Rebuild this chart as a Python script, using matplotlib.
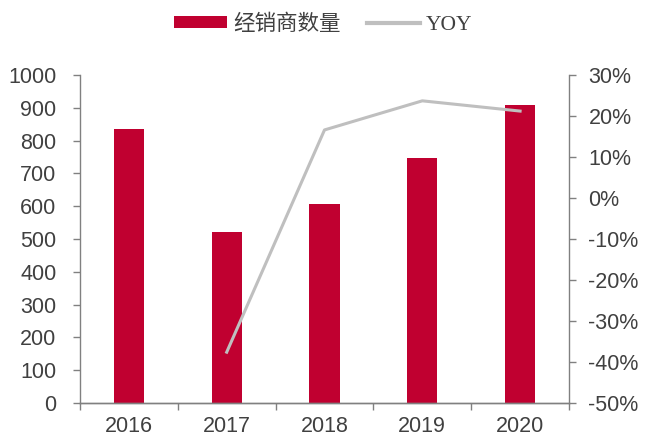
import matplotlib
matplotlib.use("Agg")
import matplotlib.pyplot as plt
from matplotlib.ticker import FuncFormatter
from matplotlib.patches import Patch
from matplotlib.lines import Line2D

years = ["2016", "2017", "2018", "2019", "2020"]
dealers = [835, 521, 607, 747, 909]
yoy_years = ["2017", "2018", "2019", "2020"]
yoy = [-37.6, 16.6, 23.7, 21.2]

bar_color = "#C00030"
line_color = "#BFBFBF"
spine_color = "#808080"
text_color = "#404040"

plt.rcParams['font.family'] = ['Liberation Sans', 'DejaVu Sans']
FS = 15.5

fig = plt.figure(figsize=(6.47, 4.44), dpi=100)
ax = fig.add_axes([80/647, 1-403/444, (569-80)/647, (403-75)/444])
x = list(range(len(years)))
ax.bar(x, dealers, width=0.31, color=bar_color, zorder=2)
ax.set_xlim(-0.5, len(years)-0.5)
ax.set_ylim(0, 1000)
ax.set_yticks(range(0, 1001, 100))
ax.set_xticks(x)
ax.set_xticklabels(years)
ax.set_xticks([i - 0.5 for i in range(len(years)+1)], minor=True)
ax.tick_params(axis='x', which='major', length=0, pad=9, labelsize=FS, labelcolor=text_color)
ax.tick_params(axis='x', which='minor', length=5, color=spine_color, width=1, direction='out')
ax.tick_params(axis='y', length=5, color=spine_color, width=1, direction='out', labelsize=FS, labelcolor=text_color, pad=12)

ax2 = ax.twinx()
idx = [years.index(y) for y in yoy_years]
ax2.plot(idx, yoy, color=line_color, linewidth=2.2, zorder=3)
ax2.set_ylim(-50, 30)
ax2.set_yticks(range(-50, 31, 10))
ax2.yaxis.set_major_formatter(FuncFormatter(lambda v, p: f"{int(v)}%"))
ax2.tick_params(axis='y', length=5, color=spine_color, width=1, direction='out', labelsize=FS, labelcolor=text_color, pad=9)

for a in (ax, ax2):
    a.spines['top'].set_visible(False)
    for s in ['left', 'right', 'bottom']:
        a.spines[s].set_color(spine_color)
        a.spines[s].set_linewidth(1)
ax.spines['right'].set_visible(False)
ax2.spines['left'].set_visible(False)

handles = [Patch(facecolor=bar_color, edgecolor='none'),
           Line2D([0], [0], color=line_color, linewidth=3)]
leg = fig.legend(handles, ["经销商数量", "YOY"], loc='center', bbox_to_anchor=(0.5, 1-24/444),
                 ncol=2, frameon=False, handlelength=2.45, handleheight=0.5, columnspacing=1.2,
                 handletextpad=0.3, prop={'family': ['Noto Sans CJK SC', 'Liberation Serif'], 'size': 15.5})
for t in leg.get_texts():
    t.set_color(text_color)
leg.get_texts()[1].set_fontfamily(['Liberation Serif'])

fig.savefig("out.png", dpi=100)
